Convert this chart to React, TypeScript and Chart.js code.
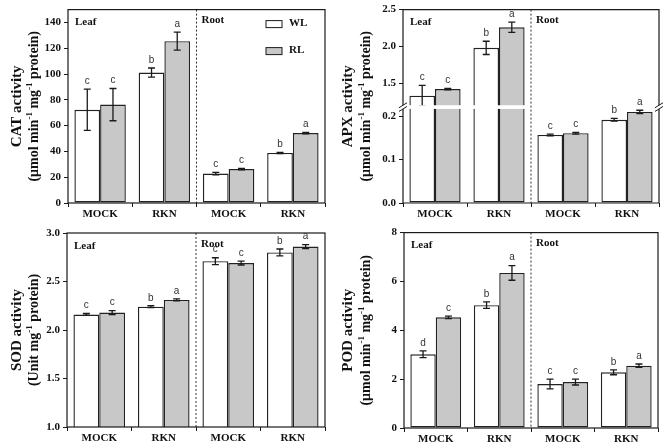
import React, { useEffect, useRef } from "react";
import { Chart, registerables } from "chart.js";
Chart.register(...registerables);

const categories = ["MOCK", "RKN", "MOCK", "RKN"];
const seriesNames = ["WL", "RL"];
const tissueLabels = ["Leaf", "Root"];

// CAT
const catWL = [72.3, 101.2, 22.8, 38.8];
const catRL = [76.3, 125.5, 26.3, 54.2];
const catWLErr = [16.0, 3.5, 1.0, 0.5];
const catRLErr = [12.5, 7.0, 0.5, 0.5];
const catWLLetters = ["c", "b", "c", "b"];
const catRLLetters = ["c", "a", "c", "a"];
const catTicks = [0, 20, 40, 60, 80, 100, 120, 140];
const catTickLabels = ["0", "20", "40", "60", "80", "100", "120", "140"];

// APX (broken axis)
const apxWL = [1.33, 1.98, 0.157, 0.192];
const apxRL = [1.42, 2.26, 0.161, 0.21];
const apxWLErr = [0.14, 0.09, 0.002, 0.003];
const apxRLErr = [0.01, 0.07, 0.002, 0.004];
const apxWLLetters = ["c", "b", "c", "b"];
const apxRLLetters = ["c", "a", "c", "a"];
const apxTicks = [0, 0.1, 0.2, 1.5, 2.0, 2.5];
const apxTickLabels = ["0.0", "0.1", "0.2", "1.5", "2.0", "2.5"];
const apxBreakLow = 0.217;
const apxBreakHigh = 1.2;
const apxUpperRatio = 0.1697;
const apxGapUnits = 0.0085;

// SOD
const sodWL = [2.16, 2.24, 2.71, 2.8];
const sodRL = [2.18, 2.31, 2.69, 2.86];
const sodWLErr = [0.01, 0.01, 0.035, 0.035];
const sodRLErr = [0.02, 0.01, 0.02, 0.02];
const sodWLLetters = ["c", "b", "c", "b"];
const sodRLLetters = ["c", "a", "c", "a"];
const sodTicks = [1.0, 1.5, 2.0, 2.5, 3.0];
const sodTickLabels = ["1.0", "1.5", "2.0", "2.5", "3.0"];

// POD
const podWL = [3.02, 5.03, 1.8, 2.28];
const podRL = [4.53, 6.35, 1.88, 2.55];
const podWLErr = [0.14, 0.13, 0.2, 0.1];
const podRLErr = [0.05, 0.3, 0.12, 0.07];
const podWLLetters = ["d", "b", "c", "b"];
const podRLLetters = ["c", "a", "c", "a"];
const podTicks = [0, 2, 4, 6, 8];
const podTickLabels = ["0", "2", "4", "6", "8"];

type Seg = { t: string; sup?: boolean };
const unitSegs: Seg[] = [
  { t: "(μmol min" },
  { t: "-1", sup: true },
  { t: " mg" },
  { t: "-1", sup: true },
  { t: " protein)" },
];
const sodUnitSegs: Seg[] = [{ t: "(Unit mg" }, { t: "-1", sup: true }, { t: " protein)" }];

const identity = (v: number) => v;
const apxMap = (v: number) =>
  v <= (apxBreakLow + apxBreakHigh) / 2
    ? v
    : apxBreakLow + apxGapUnits + (v - apxBreakHigh) * apxUpperRatio;

const SERIF = '"Liberation Serif", "Times New Roman", serif';
const SANS = '"Liberation Sans", Arial, sans-serif';

type PanelCfg = {
  box: { left: number; top: number; width: number; height: number };
  plot: { left: number; right: number; top: number; bottom: number };
  wl: number[];
  rl: number[];
  wlErr: number[];
  rlErr: number[];
  wlLet: string[];
  rlLet: string[];
  ticks: number[];
  tickLabels: string[];
  min: number;
  max: number;
  title1: string;
  title2: Seg[];
  titleX: [number, number];
  legend: boolean;
  map: (v: number) => number;
  broken: boolean;
};

const panels: PanelCfg[] = [
  {
    box: { left: 0, top: 0, width: 333, height: 223 },
    plot: { left: 68, right: 325, top: 6, bottom: 203 },
    wl: catWL, rl: catRL, wlErr: catWLErr, rlErr: catRLErr,
    wlLet: catWLLetters, rlLet: catRLLetters,
    ticks: catTicks, tickLabels: catTickLabels, min: 0, max: 150,
    title1: "CAT activity", title2: unitSegs, titleX: [16, 33],
    legend: true, map: identity, broken: false,
  },
  {
    box: { left: 333, top: 0, width: 333, height: 223 },
    plot: { left: 70, right: 326, top: 6, bottom: 203 },
    wl: apxWL, rl: apxRL, wlErr: apxWLErr, rlErr: apxRLErr,
    wlLet: apxWLLetters, rlLet: apxRLLetters,
    ticks: apxTicks, tickLabels: apxTickLabels, min: 0, max: 2.5,
    title1: "APX activity", title2: unitSegs, titleX: [14, 32],
    legend: false, map: apxMap, broken: true,
  },
  {
    box: { left: 0, top: 223, width: 333, height: 223 },
    plot: { left: 67, right: 325, top: 10, bottom: 204 },
    wl: sodWL, rl: sodRL, wlErr: sodWLErr, rlErr: sodRLErr,
    wlLet: sodWLLetters, rlLet: sodRLLetters,
    ticks: sodTicks, tickLabels: sodTickLabels, min: 1, max: 3,
    title1: "SOD activity", title2: sodUnitSegs, titleX: [16, 33],
    legend: false, map: identity, broken: false,
  },
  {
    box: { left: 333, top: 223, width: 333, height: 223 },
    plot: { left: 71, right: 325, top: 9, bottom: 205 },
    wl: podWL, rl: podRL, wlErr: podWLErr, rlErr: podRLErr,
    wlLet: podWLLetters, rlLet: podRLLetters,
    ticks: podTicks, tickLabels: podTickLabels, min: 0, max: 8,
    title1: "POD activity", title2: unitSegs, titleX: [14, 32],
    legend: false, map: identity, broken: false,
  },
];

function drawVerticalRich(ctx: CanvasRenderingContext2D, segs: Seg[], cx: number, cy: number, size: number) {
  const supSize = Math.round(size * 0.62);
  const fN = `bold ${size}px ${SERIF}`;
  const fS = `bold ${supSize}px ${SERIF}`;
  let total = 0;
  const widths = segs.map((s) => {
    ctx.font = s.sup ? fS : fN;
    const w = ctx.measureText(s.t).width;
    total += w;
    return w;
  });
  ctx.save();
  ctx.translate(cx, cy);
  ctx.rotate(-Math.PI / 2);
  ctx.textAlign = "left";
  ctx.textBaseline = "alphabetic";
  ctx.fillStyle = "#111";
  let xx = -total / 2;
  segs.forEach((s, i) => {
    ctx.font = s.sup ? fS : fN;
    const yy = s.sup ? size * 0.35 - size * 0.42 : size * 0.35;
    ctx.fillText(s.t, xx, yy);
    xx += widths[i];
  });
  ctx.restore();
}

function Panel({ cfg }: { cfg: PanelCfg }) {
  const ref = useRef<HTMLCanvasElement | null>(null);
  useEffect(() => {
    const canvas = ref.current;
    if (!canvas) return;
    const m = cfg.map;
    const overlay = {
      id: "overlay",
      afterDraw(chart: any) {
        const ctx: CanvasRenderingContext2D = chart.ctx;
        const a = chart.chartArea;
        const x = chart.scales.x;
        const y = chart.scales.y;
        ctx.save();
        const series = [
          { vals: cfg.wl, errs: cfg.wlErr, lets: cfg.wlLet },
          { vals: cfg.rl, errs: cfg.rlErr, lets: cfg.rlLet },
        ];
        const letterPos: { x: number; y: number; t: string }[] = [];
        series.forEach((s, di) => {
          const meta = chart.getDatasetMeta(di);
          meta.data.forEach((bar: any, i: number) => {
            const cx = bar.x;
            const yt = y.getPixelForValue(m(s.vals[i] + s.errs[i]));
            const yb = y.getPixelForValue(m(s.vals[i] - s.errs[i]));
            ctx.strokeStyle = "#1a1a1a";
            ctx.lineWidth = 1.3;
            ctx.beginPath();
            ctx.moveTo(cx, yt);
            ctx.lineTo(cx, yb);
            ctx.moveTo(cx - 3.5, yt);
            ctx.lineTo(cx + 3.5, yt);
            ctx.moveTo(cx - 3.5, yb);
            ctx.lineTo(cx + 3.5, yb);
            ctx.stroke();
            letterPos.push({ x: cx, y: Math.min(yt, bar.y) - 3, t: s.lets[i] });
          });
        });
        if (cfg.broken) {
          const g1 = y.getPixelForValue(apxBreakLow);
          const g2 = y.getPixelForValue(apxBreakLow + apxGapUnits);
          ctx.fillStyle = "#ffffff";
          ctx.fillRect(a.left - 2, g2, a.right - a.left + 4, g1 - g2);
          ctx.strokeStyle = "#1a1a1a";
          ctx.lineWidth = 1;
          [a.left, a.right].forEach((xx) => {
            [g1, g2].forEach((gy) => {
              ctx.beginPath();
              ctx.moveTo(xx - 4, gy + 2.5);
              ctx.lineTo(xx + 4, gy - 2.5);
              ctx.stroke();
            });
          });
        }
        const xd = (x.getPixelForValue(1) + x.getPixelForValue(2)) / 2;
        ctx.strokeStyle = "#333";
        ctx.lineWidth = 1;
        ctx.setLineDash([2, 2]);
        ctx.beginPath();
        ctx.moveTo(xd, a.top);
        ctx.lineTo(xd, a.bottom);
        ctx.stroke();
        ctx.setLineDash([]);
        ctx.strokeStyle = "#1a1a1a";
        ctx.lineWidth = 1.2;
        if (cfg.broken) {
          const g1 = y.getPixelForValue(apxBreakLow);
          const g2 = y.getPixelForValue(apxBreakLow + apxGapUnits);
          ctx.beginPath();
          ctx.moveTo(a.left, g2);
          ctx.lineTo(a.left, a.top);
          ctx.lineTo(a.right, a.top);
          ctx.lineTo(a.right, g2);
          ctx.moveTo(a.right, g1);
          ctx.lineTo(a.right, a.bottom);
          ctx.lineTo(a.left, a.bottom);
          ctx.lineTo(a.left, g1);
          ctx.stroke();
        } else {
          ctx.strokeRect(a.left, a.top, a.right - a.left, a.bottom - a.top);
        }
        ctx.fillStyle = "#333";
        ctx.font = `10px ${SANS}`;
        ctx.textAlign = "center";
        ctx.textBaseline = "bottom";
        letterPos.forEach((p) => ctx.fillText(p.t, p.x, p.y));
        ctx.fillStyle = "#111";
        ctx.font = `bold 11px ${SERIF}`;
        ctx.textAlign = "left";
        ctx.textBaseline = "middle";
        ctx.fillText(tissueLabels[0], a.left + 7, a.top + 13);
        ctx.fillText(tissueLabels[1], xd + 5, a.top + 11);
        if (cfg.legend) {
          const fills = ["#ffffff", "#c8c8c8"];
          const lx = a.left + 198;
          [a.top + 14, a.top + 41].forEach((ly, i) => {
            ctx.fillStyle = fills[i];
            ctx.fillRect(lx, ly - 3, 16, 7);
            ctx.strokeStyle = "#1a1a1a";
            ctx.lineWidth = 1;
            ctx.strokeRect(lx, ly - 3, 16, 7);
            ctx.fillStyle = "#111";
            ctx.font = `bold 11px ${SERIF}`;
            ctx.textBaseline = "middle";
            ctx.fillText(seriesNames[i], lx + 23, ly);
          });
        }
        const cy = (a.top + a.bottom) / 2;
        drawVerticalRich(ctx, [{ t: cfg.title1 }], cfg.titleX[0], cy, 15);
        drawVerticalRich(ctx, cfg.title2, cfg.titleX[1], cy, 14);
        ctx.restore();
      },
    };

    const chart = new Chart(canvas, {
      type: "bar",
      data: {
        labels: categories,
        datasets: [
          {
            label: seriesNames[0],
            data: cfg.wl.map(m),
            backgroundColor: "#ffffff",
            borderColor: "#222",
            borderWidth: 1.4,
            borderSkipped: false,
            categoryPercentage: 0.8,
            barPercentage: 1.0,
          },
          {
            label: seriesNames[1],
            data: cfg.rl.map(m),
            backgroundColor: "#c8c8c8",
            borderColor: "#222",
            borderWidth: 1.4,
            borderSkipped: false,
            categoryPercentage: 0.8,
            barPercentage: 1.0,
          },
        ],
      },
      options: {
        responsive: false,
        animation: false,
        devicePixelRatio: 1,
        layout: {
          padding: {
            left: 0,
            top: cfg.plot.top,
            right: cfg.box.width - cfg.plot.right,
            bottom: 0,
          },
        },
        plugins: { legend: { display: false }, tooltip: { enabled: false }, title: { display: false } },
        scales: {
          x: {
            type: "category",
            offset: true,
            grid: { display: true, offset: true, drawOnChartArea: false, drawTicks: true, tickLength: 4, color: "#1a1a1a", lineWidth: 1 },
            border: { display: false },
            ticks: { color: "#111", font: { family: SERIF, size: 11, weight: "bold" }, padding: 1, maxRotation: 0, autoSkip: false },
            afterFit: (s: any) => {
              s.height = cfg.box.height - cfg.plot.bottom;
            },
          },
          y: {
            type: "linear",
            min: m(cfg.min),
            max: m(cfg.max),
            grid: { display: true, drawOnChartArea: false, drawTicks: true, tickLength: 4, color: "#1a1a1a", lineWidth: 1 },
            border: { display: false },
            ticks: {
              color: "#111",
              font: { family: SERIF, size: 11, weight: "bold" },
              padding: 3,
              callback: (_v: any, i: number) => cfg.tickLabels[i],
            },
            afterBuildTicks: (s: any) => {
              s.ticks = cfg.ticks.map((v) => ({ value: m(v) }));
            },
            afterFit: (s: any) => {
              s.width = cfg.plot.left;
            },
          },
        },
      } as any,
      plugins: [overlay],
    });
    return () => chart.destroy();
  }, [cfg]);
  return (
    <div
      style={{
        position: "absolute",
        left: cfg.box.left,
        top: cfg.box.top,
        width: cfg.box.width,
        height: cfg.box.height,
      }}
    >
      <canvas
        ref={ref}
        width={cfg.box.width}
        height={cfg.box.height}
        style={{ width: cfg.box.width, height: cfg.box.height, display: "block" }}
      />
    </div>
  );
}

export default function App() {
  return (
    <div style={{ position: "absolute", left: 0, top: 0, width: 666, height: 446, background: "#fff", overflow: "hidden" }}>
      {panels.map((p, i) => (
        <Panel key={i} cfg={p} />
      ))}
    </div>
  );
}
